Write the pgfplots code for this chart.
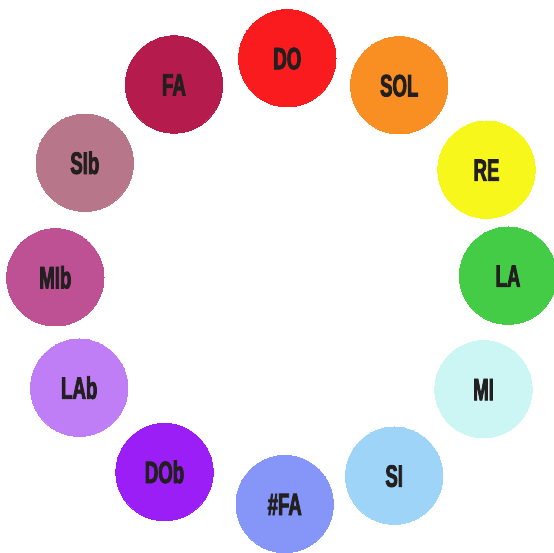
\documentclass[border=0pt]{standalone}
\usepackage{pgfplots}
\pgfplotsset{compat=1.18}
\usepackage{fontspec}
\newfontfamily\notefont[FakeStretch=0.6, FakeBold=2.5]{Liberation Sans}
\definecolor{txt}{HTML}{231F20}
\definecolor{cDO}{HTML}{F91B1E}
\definecolor{cSOL}{HTML}{F98E22}
\definecolor{cRE}{HTML}{F7F71C}
\definecolor{cLA}{HTML}{44CC47}
\definecolor{cMI}{HTML}{CCF6F4}
\definecolor{cSI}{HTML}{9DD4F8}
\definecolor{cFAs}{HTML}{8596F8}
\definecolor{cDOb}{HTML}{9B1EF7}
\definecolor{cLAb}{HTML}{C07EF6}
\definecolor{cMIb}{HTML}{BE5194}
\definecolor{cSIb}{HTML}{B8768A}
\definecolor{cFA}{HTML}{B51B4C}
\pgfplotsset{
  note/.style 2 args={only marks, mark=*, mark size=48.7pt, color=#1,
    mark options={draw=#1, fill=#1, line width=0pt},
    nodes near coords={#2},
    every node near coord/.append style={anchor=base, inner sep=0pt,
      font=\notefont\bfseries\fontsize{31}{31}\selectfont, text=txt, yshift=-11.1pt}}
}
\begin{document}
\begin{tikzpicture}
\begin{axis}[name=ax, hide axis, scale only axis, width=554pt, height=553pt,
  xmin=0, xmax=554, ymin=0, ymax=553, clip=true]
\addplot[note={cDO}{DO}] coordinates {(287.3,494.8)};
\addplot[note={cSOL}{SOL}] coordinates {(399.2,467.7)};
\addplot[note={cRE}{RE}] coordinates {(486.5,383.3)};
\addplot[note={cLA}{LA}] coordinates {(508,277.3)};
\addplot[note={cMI}{MI}] coordinates {(483.5,163.8)};
\addplot[note={cSI}{SI}] coordinates {(394.2,77.3)};
\addplot[note={cFAs}{\#FA}] coordinates {(284.7,49)};
\addplot[note={cDOb}{DOb}] coordinates {(164.5,81)};
\addplot[note={cLAb}{LAb}] coordinates {(79.2,165.3)};
\addplot[note={cMIb}{MIb}] coordinates {(55.3,275.7)};
\addplot[note={cSIb}{SIb}] coordinates {(84.8,390.2)};
\addplot[note={cFA}{FA}] coordinates {(174,468.5)};
\end{axis}
\pgfresetboundingbox
\useasboundingbox (ax.south west) rectangle (ax.north east);
\end{tikzpicture}
\end{document}
